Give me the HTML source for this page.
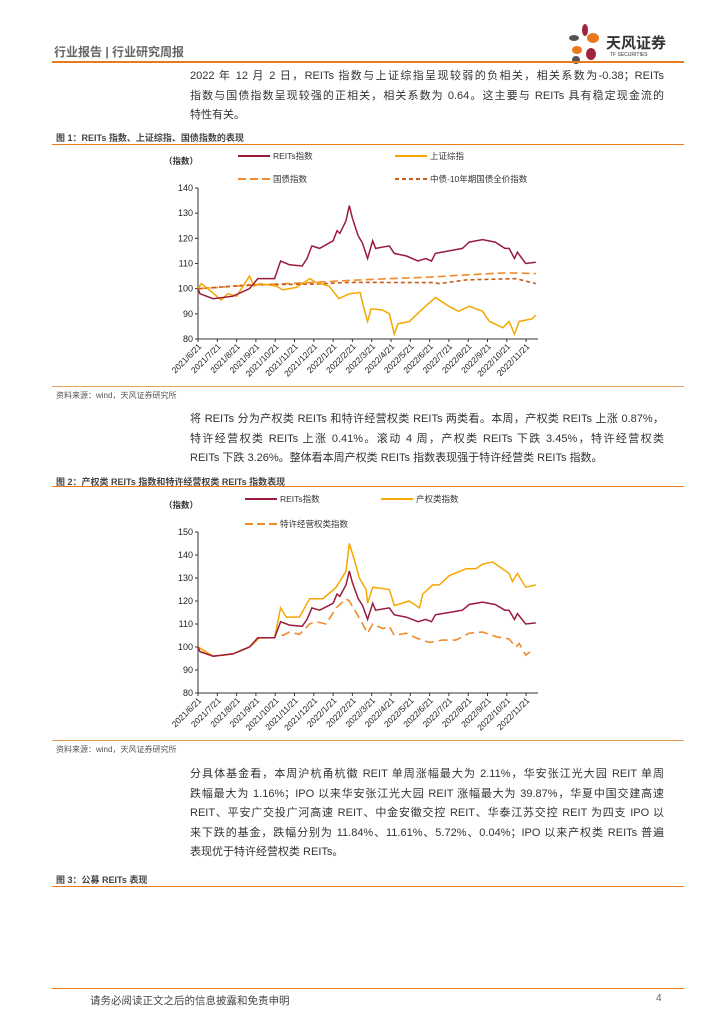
<!DOCTYPE html>
<html><head><meta charset="utf-8"><style>
body{margin:0;width:724px;height:1024px;background:#fff;position:relative;font-family:"Liberation Sans","Noto Sans CJK SC",sans-serif;color:#333;overflow:hidden}
.a{position:absolute}
.p{position:absolute;left:190px;width:474px;font-size:11px;line-height:19.5px;color:#333}
.p div{text-align:justify;text-align-last:justify;white-space:nowrap;overflow:visible;height:19.5px}
.p div.l{text-align-last:left}
.ft{position:absolute;left:56px;font-size:9px;font-weight:bold;color:#444}
.ln{position:absolute;left:52px;width:632px;height:1px;background:#e87a1e}
.src{position:absolute;left:56px;font-size:8px;color:#555}
</style></head><body>
<div class="a" style="left:54px;top:43px;font-size:12px;color:#666;font-weight:bold">行业报告 | 行业研究周报</div>
<svg class="a" style="left:565px;top:24px" width="40" height="40"><ellipse cx="20" cy="6" rx="3" ry="6" fill="#a0253a"/><ellipse cx="9" cy="14" rx="5" ry="3" fill="#555"/><ellipse cx="28" cy="14" rx="6" ry="5" fill="#e87a1e"/><ellipse cx="12" cy="26" rx="5" ry="4" fill="#e87a1e"/><ellipse cx="26" cy="30" rx="5" ry="6" fill="#a0253a"/><ellipse cx="11" cy="36" rx="4" ry="4" fill="#555"/></svg>
<div class="a" style="left:606px;top:32px;font-size:15px;font-weight:bold;color:#333">天风证券</div>
<div class="a" style="left:610px;top:52px;font-size:5px;color:#333">TF SECURITIES</div>
<div class="ln" style="top:61px;height:2px"></div>
<div class="p" style="top:67px"><div>2022 年 12 月 2 日，REITs 指数与上证综指呈现较弱的负相关，相关系数为-0.38；REITs</div><div>指数与国债指数呈现较强的正相关，相关系数为 0.64。这主要与 REITs 具有稳定现金流的</div><div class="l">特性有关。</div></div>
<div class="ft" style="top:131px">图 1：REITs 指数、上证综指、国债指数的表现</div>
<div class="ln" style="top:144px"></div>
<svg class="a" id="c1" style="left:0;top:0" width="724" height="400"></svg>
<div class="ln" style="top:386px;background:#e8a060"></div>
<div class="src" style="top:390px">资料来源：wind，天风证券研究所</div>
<div class="p" style="top:410px"><div>将 REITs 分为产权类 REITs 和特许经营权类 REITs 两类看。本周，产权类 REITs 上涨 0.87%，</div><div>特许经营权类 REITs 上涨 0.41%。滚动 4 周，产权类 REITs 下跌 3.45%，特许经营权类</div><div class="l">REITs 下跌 3.26%。整体看本周产权类 REITs 指数表现强于特许经营类 REITs 指数。</div></div>
<div class="ft" style="top:475px">图 2：产权类 REITs 指数和特许经营权类 REITs 指数表现</div>
<div class="ln" style="top:486px"></div>
<svg class="a" id="c2" style="left:0;top:0" width="724" height="760"></svg>
<div class="ln" style="top:740px;background:#e8a060"></div>
<div class="src" style="top:744px">资料来源：wind，天风证券研究所</div>
<div class="p" style="top:765px"><div>分具体基金看，本周沪杭甬杭徽 REIT 单周涨幅最大为 2.11%，华安张江光大园 REIT 单周</div><div>跌幅最大为 1.16%；IPO 以来华安张江光大园 REIT 涨幅最大为 39.87%，华夏中国交建高速</div><div>REIT、平安广交投广河高速 REIT、中金安徽交控 REIT、华泰江苏交控 REIT 为四支 IPO 以</div><div>来下跌的基金，跌幅分别为 11.84%、11.61%、5.72%、0.04%；IPO 以来产权类 REITs 普遍</div><div class="l">表现优于特许经营权类 REITs。</div></div>
<div class="ft" style="top:873px">图 3：公募 REITs 表现</div>
<div class="ln" style="top:886px"></div>
<div class="a" style="left:52px;top:988px;width:632px;height:1px;background:#e87a1e"></div>
<div class="a" style="left:90px;top:993px;font-size:10.5px;color:#444">请务必阅读正文之后的信息披露和免责申明</div>
<div class="a" style="left:656px;top:993px;font-size:10px;color:#666">4</div>
<script>
const months=["2021/6/21","2021/7/21","2021/8/21","2021/9/21","2021/10/21","2021/11/21","2021/12/21","2022/1/21","2022/2/21","2022/3/21","2022/4/21","2022/5/21","2022/6/21","2022/7/21","2022/8/21","2022/9/21","2022/10/21","2022/11/21"];
const reitsT=[0,0.1,0.78,1.81,2.67,3.1,3.97,4.28,4.74,5.4,5.65,5.9,6.3,7.0,7.2,7.35,7.67,7.84,8.0,8.3,8.53,8.79,9.05,9.2,9.91,10.17,10.78,11.4,11.8,12.1,12.3,13.0,13.7,14.05,14.74,15.4,15.9,16.12,16.4,16.55,16.98,17.5];
const reitsV=[100,98,96,97,100,104,104,111,109.5,109,112,117,116,119,123,122,127,133,128,121,118,112,119,116,117,114,113,111,112,111,114,115,116,118.5,119.5,118.5,116,116,112,114.5,110,110.5];
const shT=[0,0.17,0.5,1.2,1.55,2,2.67,2.9,3.2,4.05,4.4,5.1,5.8,6.1,6.8,7.3,7.84,8.4,8.6,8.79,8.97,9.57,9.91,10.17,10.35,10.95,11.5,12.3,13.0,13.5,14.05,14.74,15.1,15.8,16.12,16.4,16.64,17.3,17.5];
const shV=[100,102,100,95.5,98,97,105,101,102,101,99.5,100.5,104,102.5,101,96,98,98.5,92,87,92,91.5,90,82,86,87,91,96.5,93,91,93,91,87,84.5,87,82,87,88,89.5];
const govT=[0,3,6,7.84,10,12,14,16,17.5];
const govV=[100,101.5,102.5,103.3,104,104.6,105.5,106.3,106];
const tenT=[0,2.67,6.1,7.84,12.16,12.5,13.88,16.47,17.5];
const tenV=[100,101.5,101.8,102.5,102.4,102,103.5,104,102];
const propT=[0,0.78,1.81,2.67,3.19,3.97,4.28,4.57,5.26,5.78,6.47,7.16,7.67,7.84,8.1,8.36,8.71,8.79,9.05,9.91,10.17,10.95,11.47,11.64,12.16,12.5,13.02,13.88,14.4,14.74,15.26,16.12,16.29,16.55,16.98,17.5];
const propV=[100,96,97,100,104,104,117,113,113,121,121,126,133,145,138,130,125,119,126,125,118,120,117,123,127,127,131,134,134,136,137,132,128.5,132,126,127];
const franT=[0,0.78,1.81,2.67,3.19,3.97,4.05,4.4,4.74,5.26,5.78,6.12,6.64,7.16,7.67,7.84,8.19,8.53,8.79,9.05,9.57,9.91,10.17,10.78,11.29,11.98,12.67,13.36,14.05,14.74,15.43,16.12,16.47,16.64,16.98,17.24];
const franV=[100,96,97,100,104,104,107,105,106.5,105.5,110,111,110,117,121,120,115,110,106,110,108,109,105,106,104,102,103,103,106,106.5,104.5,103.5,100,101.5,96.5,98];
const y1Ticks=[80,90,100,110,120,130,140];
const y2Ticks=[80,90,100,110,120,130,140,150];
const NS="http://www.w3.org/2000/svg";
function mk(svg,tag,at,txt){const e=document.createElementNS(NS,tag);for(const k in at)e.setAttribute(k,at[k]);if(txt!==undefined)e.textContent=txt;svg.appendChild(e);return e;}
function chart(id,top,bot,ymin,ymax,ticks,series,legend){
 const svg=document.getElementById(id);
 const x0=198,mw=19.3;
 const X=m=>x0+m*mw, Y=v=>bot-(v-ymin)/(ymax-ymin)*(bot-top);
 const ax=mk(svg,'path',{d:`M${x0},${top}V${bot}H538`,stroke:'#333','stroke-width':1,fill:'none'});
 
 
 ticks.forEach(t=>{mk(svg,'line',{x1:x0-3,x2:x0,y1:Y(t),y2:Y(t),stroke:'#333'});
  const l=mk(svg,'text',{x:x0-5,y:Y(t)+3,'font-size':9,'text-anchor':'end',fill:'#222'},t);
  
  });
 months.forEach((m,i)=>{const x=X(i);mk(svg,'line',{x1:x,x2:x,y1:bot,y2:bot+3,stroke:'#333'});
  const l=mk(svg,'text',{x:x+4,y:bot+8,'font-size':8.5,'text-anchor':'end',fill:'#222',transform:`rotate(-45 ${x+4} ${bot+8})`},m);
  
  });
 series.forEach(s=>{const d=s.t.map((t,i)=>(i?'L':'M')+X(t).toFixed(1)+','+Y(s.v[i]).toFixed(1)).join('');
  const p=mk(svg,'path',{d,stroke:s.c,'stroke-width':s.w||1.5,fill:'none','stroke-dasharray':s.dash||'none'});
  
  });
 legend.forEach(g=>{mk(svg,'line',{x1:g.x,x2:g.x+32,y1:g.y,y2:g.y,stroke:g.c,'stroke-width':2,'stroke-dasharray':g.dash||'none'});
  const l=mk(svg,'text',{x:g.x+35,y:g.y+3,'font-size':8.5,fill:'#333'},g.label);
  
  });
 const u=mk(svg,'text',{x:164,y:top-24,'font-size':8.5,'font-weight':'bold',fill:'#333'},'（指数）');
 
 
}
chart('c1',188,339,80,140,y1Ticks,[
 {t:govT,v:govV,c:'#f08a2a',dash:'8,4',w:1.6,name:'gov-bond-line'},
 {t:tenT,v:tenV,c:'#c85a1a',dash:'4,3',w:1.6,name:'10y-bond-line'},
 {t:shT,v:shV,c:'#f5a800',name:'shanghai-line'},
 {t:reitsT,v:reitsV,c:'#9b1b3c',name:'reits-line'}],
 [{x:238,y:156,c:'#9b1b3c',label:'REITs指数'},{x:395,y:156,c:'#f5a800',label:'上证综指'},
  {x:238,y:179,c:'#f08a2a',dash:'8,4',label:'国债指数'},{x:395,y:179,c:'#c85a1a',dash:'4,3',label:'中债-10年期国债全价指数'}]);
chart('c2',532,693,80,150,y2Ticks,[
 {t:franT,v:franV,c:'#f08a2a',dash:'9,5',w:1.6,name:'franchise-line'},
 {t:propT,v:propV,c:'#f5a800',name:'property-line'},
 {t:reitsT,v:reitsV,c:'#9b1b3c',name:'reits-line'}],
 [{x:245,y:499,c:'#9b1b3c',label:'REITs指数'},{x:381,y:499,c:'#f5a800',label:'产权类指数'},
  {x:245,y:524,c:'#f08a2a',dash:'8,4',label:'特许经营权类指数'}]);
</script>
</body></html>
